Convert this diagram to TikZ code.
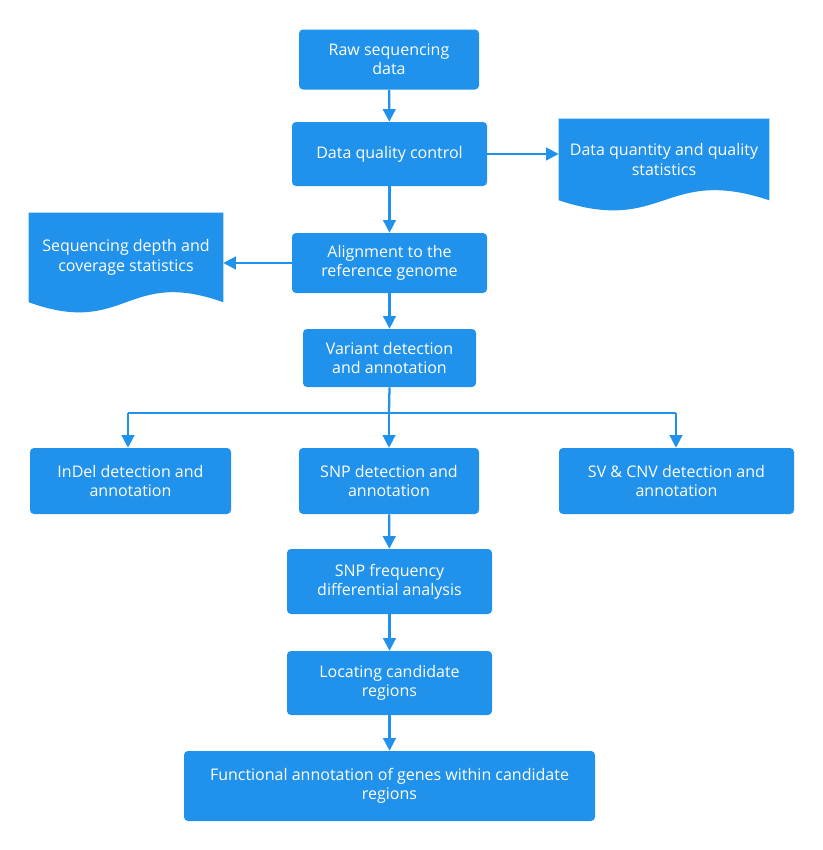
\documentclass[tikz,border=0pt]{standalone}
\usepackage{fontspec}
\setmainfont{Open Sans}
\usetikzlibrary{arrows.meta,calc}
\definecolor{fblue}{HTML}{2192EC}
\newdimen\upx \upx=0.75pt
\pgfdeclarelayer{back}
\pgfdeclarelayer{bg}
\pgfsetlayers{back,bg,main}
\tikzset{
  box/.style={fill=fblue, rounded corners=3pt, text=white, align=center, inner sep=0pt,
    font=\fontsize{12pt}{14.5pt}\selectfont},
  docbox/.style={text=white, align=center, inner sep=0pt,
    font=\fontsize{12pt}{14.5pt}\selectfont},
  flow/.style={draw=fblue, line width=1.7pt},
  arr/.style={flow, -{Triangle[width=9.5pt,length=9.5pt]}}
}
\begin{document}
\begin{tikzpicture}[x=0.75pt,y=-0.75pt]
\begin{pgfonlayer}{back}
\fill[white] (0,0) rectangle (823,850);
\end{pgfonlayer}
\useasboundingbox (0,0) rectangle (823,850);
% boxes
\node[box, minimum width=180\upx, minimum height=60\upx] (raw) at (389,59.5) {Raw sequencing\\data};
\node[box, minimum width=195\upx, minimum height=64\upx] (qc) at (389.5,154) {Data quality control};
\node[docbox, minimum width=210\upx, minimum height=81\upx] (dq) at (664,159.5) {Data quantity and quality\\statistics};
\node[box, minimum width=195\upx, minimum height=60\upx] (al) at (389.5,263) {Alignment to the\\reference genome};
\node[docbox, minimum width=194\upx, minimum height=89\upx] (sd) at (126,257.5) {Sequencing depth and\\coverage statistics};
\node[box, minimum width=173\upx, minimum height=58\upx] (vd) at (389.5,358) {Variant detection\\and annotation};
\node[box, minimum width=201\upx, minimum height=66\upx] (indel) at (130.5,481) {InDel detection and\\annotation};
\node[box, minimum width=180\upx, minimum height=66\upx] (snp) at (389,481) {SNP detection and\\annotation};
\node[box, minimum width=235\upx, minimum height=66\upx] (sv) at (676.5,481) {SV \& CNV detection and\\annotation};
\node[box, minimum width=205\upx, minimum height=65\upx] (sf) at (389.5,581.5) {SNP frequency\\differential analysis};
\node[box, minimum width=205\upx, minimum height=64\upx] (lc) at (389.5,683) {Locating candidate\\regions};
\node[box, minimum width=411\upx, minimum height=70\upx] (fa) at (389.5,786) {Functional annotation of genes within candidate\\regions};
% document shapes
\begin{pgfonlayer}{bg}
\fill[fblue] (dq.north west) -- (dq.north east) -- (dq.south east)
  .. controls ($(dq.south)+(0,-35)$) and ($(dq.south)+(0,35)$) .. (dq.south west) -- cycle;
\fill[fblue] (sd.north west) -- (sd.north east) -- (sd.south east)
  .. controls ($(sd.south)+(0,-35)$) and ($(sd.south)+(0,35)$) .. (sd.south west) -- cycle;
\end{pgfonlayer}
% connectors
\coordinate (br) at (389,413);
\coordinate (brl) at (128,413);
\coordinate (brr) at (676,413);
\draw[arr] (raw) -- (qc);
\draw[arr] (qc) -- (al);
\draw[arr] (al) -- (vd);
\draw[arr] (qc.east) -- (qc.east -| dq.west);
\draw[arr] (al.west) -- (al.west -| sd.east);
\draw[flow] (vd.south) -- (br);
\draw[flow] (brl) -- (brr);
\draw[arr] (br) -- (snp.north);
\draw[arr] (brl) -- (brl |- indel.north);
\draw[arr] (brr) -- (brr |- sv.north);
\draw[arr] (snp) -- (sf);
\draw[arr] (sf) -- (lc);
\draw[arr] (lc) -- (fa);
\end{tikzpicture}
\end{document}
